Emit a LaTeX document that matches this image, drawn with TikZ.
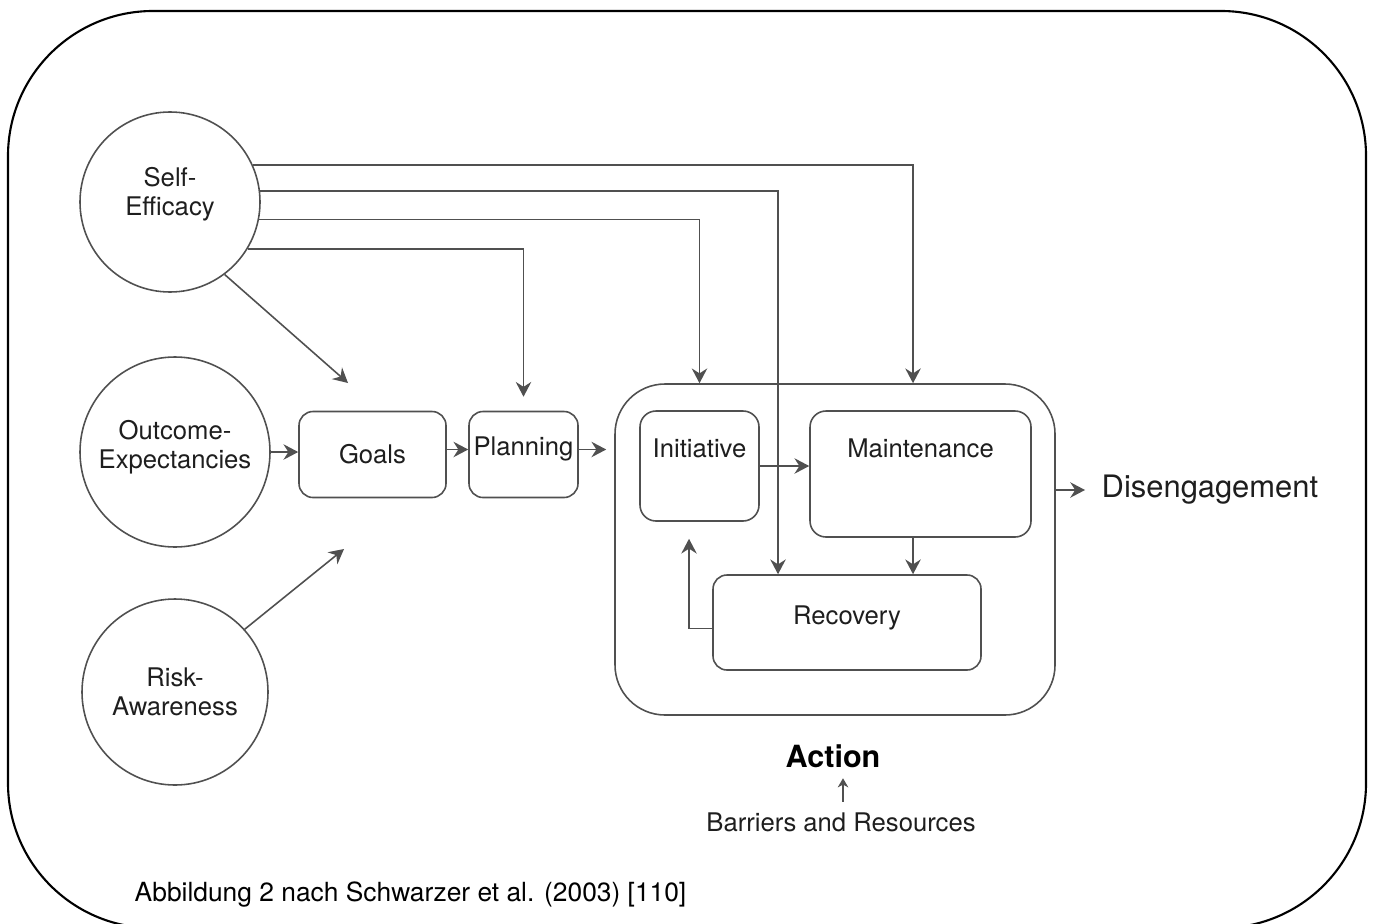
\documentclass[tikz,border=0pt]{standalone}
\usepackage{fontspec}
\setmainfont{TeX Gyre Heros}
\usetikzlibrary{arrows.meta}
\definecolor{linegray}{HTML}{505050}
\definecolor{txtgray}{HTML}{1E1E1E}
\begin{document}
\begin{tikzpicture}[x=0.1mm,y=-0.1mm,
	font=\fontsize{7.3pt}{8.4pt}\selectfont, text=txtgray,
	>={Stealth[length=4.2pt,width=4.4pt,inset=1.4pt]},
	bubble/.style={circle,draw=linegray,line width=0.45pt,inner sep=0pt},
	box/.style={draw=linegray,rounded corners=1.4mm,line width=0.45pt,inner sep=0pt},
	link/.style={->,draw=linegray,line width=0.45pt}]
	\clip (0,0) rectangle (1374,923);
	% frame
	\draw[line width=0.6pt,rounded corners=14.5mm] (8,11) rectangle (1366,928);
	% factors
	\node[bubble,minimum size=18mm,label={[align=center,yshift=0.8mm]center:Self-\\Efficacy}] (se) at (170,202) {};
	\node[bubble,minimum size=19mm,label={[align=center,yshift=0.5mm]center:Outcome-\\Expectancies}] (oe) at (175,452) {};
	\node[bubble,minimum size=18.6mm,label={[align=center]center:Risk-\\Awareness}] (ra) at (175,692) {};
	\node[box,minimum width=14.7mm,minimum height=8.6mm] (goals) at (372.5,454.5) {Goals};
	\node[box,minimum width=10.9mm,minimum height=8.6mm,label={[yshift=0.6mm]center:Planning}] (plan) at (523.5,454.5) {};
	% action
	\node[box,rounded corners=5mm,minimum width=44mm,minimum height=33.1mm] (act) at (835,549.5) {};
	\node[box,rounded corners=1.6mm,minimum width=11.9mm,minimum height=11mm,label={[yshift=1.8mm]center:Initiative}] (init) at (699.5,466) {};
	\node[box,rounded corners=1.6mm,minimum width=22.1mm,minimum height=12.6mm,label={[yshift=2.6mm]center:Maintenance}] (maint) at (920.5,474) {};
	\node[box,minimum width=26.8mm,minimum height=9.5mm,label={[yshift=0.5mm]center:Recovery}] (rec) at (847,622.5) {};
	\node[anchor=west,inner sep=0pt,font=\fontsize{8.8pt}{10pt}\selectfont] (dis) at (1101,490) {Disengagement};
	\node[inner sep=0pt,font=\fontsize{8.7pt}{10pt}\selectfont\bfseries,text=black] (actlbl) at (833,756) {Action};
	\node[inner sep=0pt] (bar) at (841,822) {Barriers and Resources};
	\node[anchor=west,inner sep=0pt,text=black,font=\fontsize{7.5pt}{9pt}\selectfont] (note) at (134,895) {Abbildung 2 nach Schwarzer et al. (2003) [110]};
	\coordinate (k1) at (913,0);
	\coordinate (k2) at (778,0);
	\coordinate (g1) at (348,383);
	\coordinate (g2) at (344,549);
	% connectors
	\draw[link] (se.24) -| (k1 |- act.north);
	\draw[link] (se.7) -| (k2 |- rec.north);
	\draw[link] (se.-11.5) -| (init.north |- act.north);
	\draw[link,shorten >=1.4mm] (se.-31) -| (plan.north);
	\draw[link] (se.-53) -- (g1);
	\draw[link] (ra.42) -- (g2);
	\draw[link] (oe.east) -- (oe.east -| goals.west);
	\draw[link] ([yshift=0.5mm]goals.east) -- ([yshift=0.5mm]plan.west);
	\draw[link,shorten >=0.8mm] ([yshift=0.5mm]plan.east) -- ([yshift=0.5mm]plan.east -| act.west);
	\draw[link] (init.east) -- (init.east -| maint.west);
	\draw[link] (k1 |- maint.south) -- (k1 |- rec.north);
	\draw[link,shorten >=1.7mm] ([yshift=-0.6mm]rec.west) -| ([xshift=-1.05mm]init.south);
	\draw[link,shorten >=1.6mm] (dis.west -| act.east) -- (dis.west);
	\draw[->,draw=linegray,line width=0.4pt,>={Stealth[length=2.6pt,width=3pt,inset=0.8pt]},shorten <=1mm,shorten >=1mm] (bar.north -| 843,0) -- (actlbl.south -| 843,0);
\end{tikzpicture}
\end{document}
